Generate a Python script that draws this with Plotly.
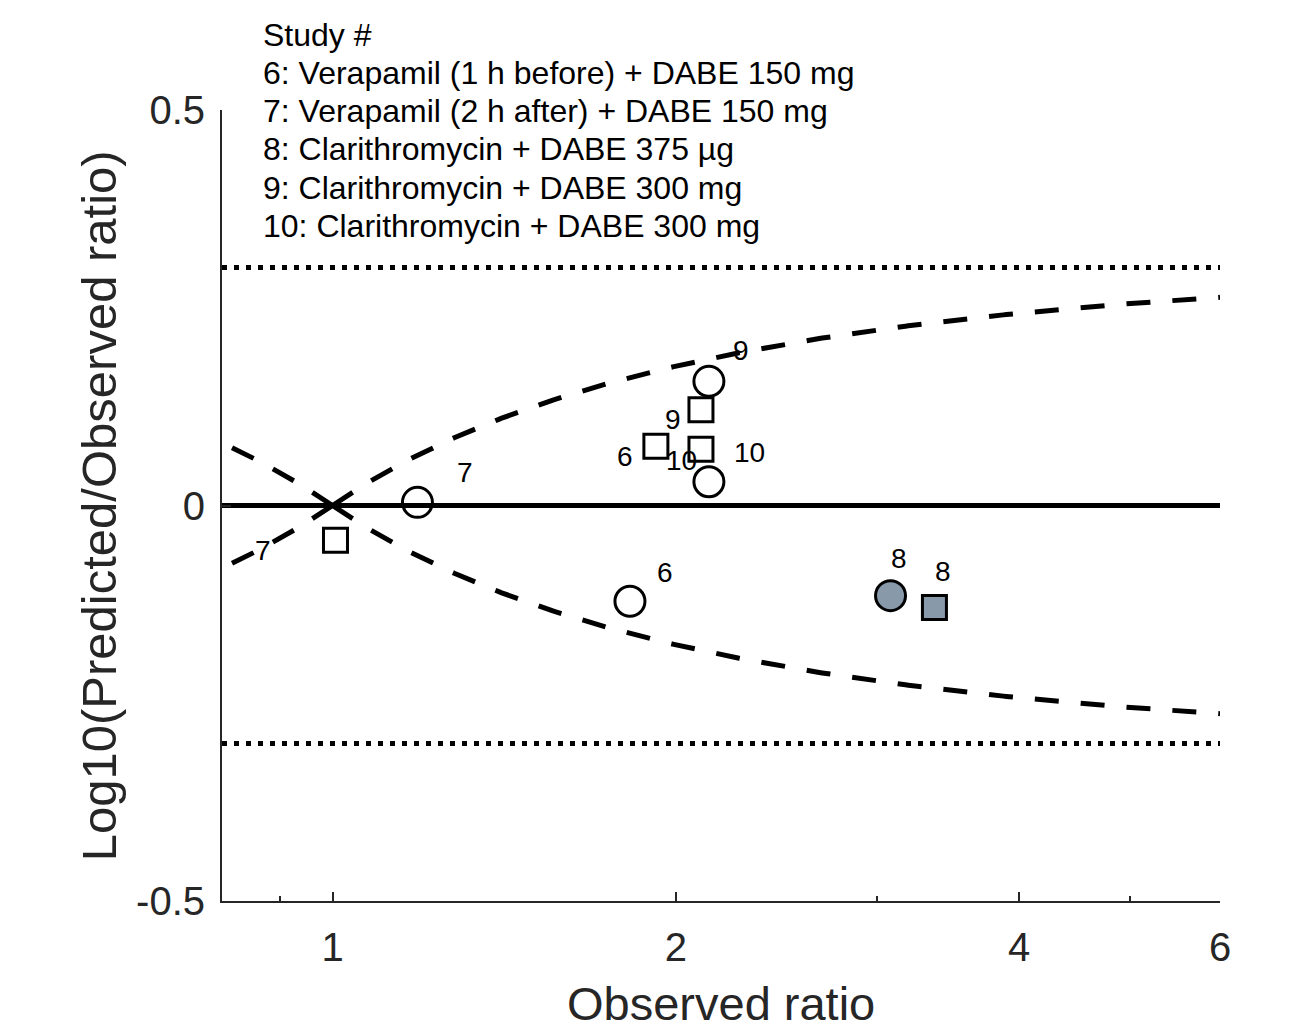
import numpy as np
import plotly.graph_objects as go

# ---------------- data ----------------
circle_labels = ["7", "6", "9", "10"]
circle_obs = [1.187, 1.823, 2.138, 2.138]
circle_log = [0.004, -0.121, 0.157, 0.030]

square_labels = ["7", "6", "9", "10"]
square_obs = [1.006, 1.921, 2.104, 2.104]
square_log = [-0.044, 0.075, 0.121, 0.071]

filled_circle_labels = ["8"]
filled_circle_obs = [3.085]
filled_circle_log = [-0.114]

filled_square_labels = ["8"]
filled_square_obs = [3.371]
filled_square_log = [-0.129]

x_limits = [0.8, 6]
twofold_lines = [np.log10(2), -np.log10(2)]
unity_line = [0]

xtick_vals = [1, 2, 4, 6]
xtick_text = ["1", "2", "4", "6"]
xminor_vals = [0.9, 3, 5]
ytick_vals = [-0.5, 0, 0.5]
ytick_text = ["-0.5", "0", "0.5"]

legend_lines = [
    "Study #",
    "6: Verapamil (1 h before) + DABE 150 mg",
    "7: Verapamil (2 h after) + DABE 150 mg",
    "8: Clarithromycin + DABE 375 \u00b5g",
    "9: Clarithromycin + DABE 300 mg",
    "10: Clarithromycin + DABE 300 mg",
]
x_title = "Observed ratio"
y_title = "Log10(Predicted/Observed ratio)"


# Guest et al. prediction limits (delta = 1)
def guest_limit(r):
    r = np.asarray(r, dtype=float)
    rr = np.where(r >= 1, r, 1.0 / r)
    return np.log10((1 + 2 * (rr - 1)) / rr)


# ---------------- style ----------------
FONT = "Arial, Liberation Sans, sans-serif"
AX = "#262626"
FILL = "#8899AA"

fig = go.Figure()

# unity line
for yv in unity_line:
    fig.add_trace(go.Scatter(x=x_limits, y=[yv, yv], mode="lines",
                             line=dict(color="black", width=5), hoverinfo="skip"))
# two-fold lines
for yv in twofold_lines:
    fig.add_trace(go.Scatter(x=x_limits, y=[yv, yv], mode="lines",
                             line=dict(color="black", width=5, dash="5px,7px"), hoverinfo="skip"))

# Guest limit curves, each drawn outward from R = 1
r_right = np.geomspace(1, x_limits[1], 300)
r_left = np.geomspace(1, x_limits[0], 80)
for rs in (r_right, r_left):
    g = guest_limit(rs)
    for sgn in (1, -1):
        fig.add_trace(go.Scatter(x=rs, y=sgn * g, mode="lines",
                                 line=dict(color="black", width=5, dash="24px,22px"),
                                 hoverinfo="skip"))

# markers
fig.add_trace(go.Scatter(x=circle_obs, y=circle_log, mode="markers",
                         marker=dict(symbol="circle", size=30, color="rgba(0,0,0,0)",
                                     line=dict(color="black", width=3))))
fig.add_trace(go.Scatter(x=square_obs, y=square_log, mode="markers",
                         marker=dict(symbol="square", size=24, color="rgba(0,0,0,0)",
                                     line=dict(color="black", width=3))))
fig.add_trace(go.Scatter(x=filled_circle_obs, y=filled_circle_log, mode="markers",
                         marker=dict(symbol="circle", size=30, color=FILL,
                                     line=dict(color="black", width=3))))
fig.add_trace(go.Scatter(x=filled_square_obs, y=filled_square_log, mode="markers",
                         marker=dict(symbol="square", size=24, color=FILL,
                                     line=dict(color="black", width=3))))

annotations = []
lab_font = dict(family=FONT, size=28, color="black")

circle_shifts = [(48, 30), (35, 29), (32, 31), (41, 29)]
square_shifts = [(-72, -10), (-31, -10), (-28, -10), (-19, -11)]
fc_shifts = [(8, 37)]
fs_shifts = [(9, 36)]

for labs, xs, ys, shifts in [
    (circle_labels, circle_obs, circle_log, circle_shifts),
    (square_labels, square_obs, square_log, square_shifts),
    (filled_circle_labels, filled_circle_obs, filled_circle_log, fc_shifts),
    (filled_square_labels, filled_square_obs, filled_square_log, fs_shifts),
]:
    for lab, xv, yv, (dx, dy) in zip(labs, xs, ys, shifts):
        annotations.append(dict(x=np.log10(xv), y=yv, xref="x", yref="y", text=lab,
                                showarrow=False, xanchor="center", yanchor="middle",
                                xshift=dx, yshift=dy, font=lab_font))

# legend text block
legend_y = [1.0948, 1.0468, 0.9987, 0.9507, 0.9014, 0.8533]
for txt, yp in zip(legend_lines, legend_y):
    annotations.append(dict(x=0.0391, y=yp, xref="paper", yref="paper", text=txt,
                            showarrow=False, xanchor="left", yanchor="middle",
                            font=dict(family=FONT, size=32, color="black")))

# axis titles
annotations.append(dict(x=0.5, y=-0.129, xref="paper", yref="paper", text=x_title,
                        showarrow=False, xanchor="center", yanchor="middle",
                        font=dict(family=FONT, size=47, color=AX)))
annotations.append(dict(x=-0.1235, y=0.5, xref="paper", yref="paper", text=y_title,
                        showarrow=False, xanchor="center", yanchor="middle", textangle=-90,
                        font=dict(family=FONT, size=49, color=AX)))

# page body adds an 8px margin at top/left, so the figure is 8px smaller
fig.update_layout(
    width=1286, height=1016,
    margin=dict(l=214, r=74, t=102, b=123),
    paper_bgcolor="white", plot_bgcolor="white",
    showlegend=False,
    annotations=annotations,
    xaxis=dict(type="log", range=[np.log10(x_limits[0]), np.log10(x_limits[1])],
               tickmode="array", tickvals=xtick_vals, ticktext=xtick_text,
               ticks="inside", ticklen=9, tickwidth=2, tickcolor=AX,
               showline=True, linecolor=AX, linewidth=2, mirror=False,
               showgrid=False, zeroline=False,
               tickfont=dict(family=FONT, size=40, color=AX),
               ticklabelstandoff=10,
               minor=dict(tickmode="array", tickvals=xminor_vals, ticks="inside",
                          ticklen=5, tickwidth=2, tickcolor=AX, showgrid=False)),
    yaxis=dict(range=[-0.5, 0.5], tickmode="array", tickvals=ytick_vals, ticktext=ytick_text,
               ticks="inside", ticklen=9, tickwidth=2, tickcolor=AX,
               showline=True, linecolor=AX, linewidth=2, mirror=False,
               showgrid=False, zeroline=False,
               tickfont=dict(family=FONT, size=40, color=AX),
               ticklabelstandoff=7),
)

fig.write_html("out.html")
